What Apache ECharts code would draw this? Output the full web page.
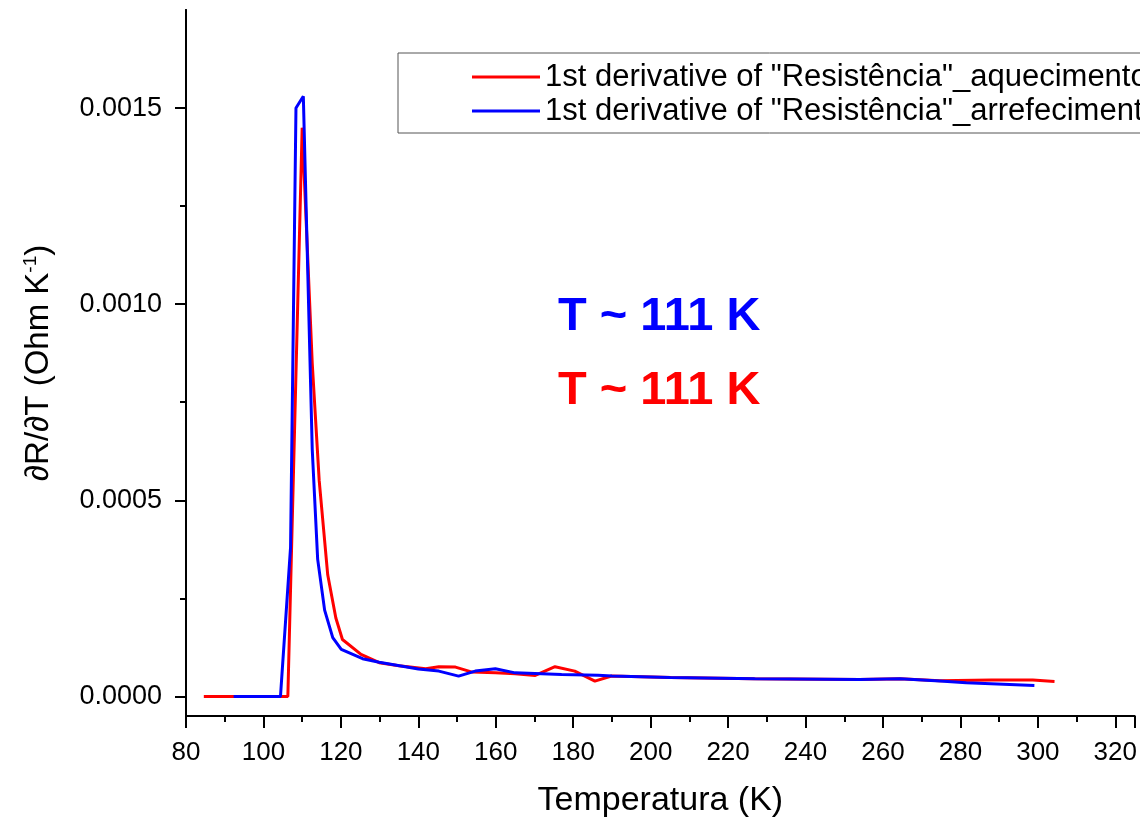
<!DOCTYPE html>
<html>
<head>
<meta charset="utf-8">
<script src="https://cdn.jsdelivr.net/npm/echarts@6/dist/echarts.min.js"></script>
<style>
  html, body { margin: 0; padding: 0; background: #fff; }
  #chart { width: 1140px; height: 826px; }
</style>
</head>
<body>
<div id="chart"></div>
<script>
// 数据: [温度 K, dR/dT]
const aquecimento = [
  [84.6, 0], [106.3, 0], [110.0, 0.00145], [112.6, 0.00085], [114.4, 0.00055],
  [116.6, 0.00031], [118.7, 0.00020], [120.4, 0.000145], [125.2, 0.000107],
  [129.9, 0.000086], [135.0, 0.000078], [141.9, 0.0000705], [145.3, 0.0000756],
  [149.6, 0.0000747], [153.9, 0.000062], [159.9, 0.000060], [165.0, 0.000058],
  [170.2, 0.0000535], [175.3, 0.0000757], [180.4, 0.0000645], [185.6, 0.000039],
  [189.9, 0.000052], [205.3, 0.000048], [226.7, 0.000045], [254.0, 0.000043],
  [264.4, 0.000045], [274.7, 0.000040], [288.0, 0.000042], [298.7, 0.0000415],
  [304.3, 0.000038]
]
const arrefecimento = [
  [92.3, 0], [104.4, 0], [107.0, 0.00038], [108.4, 0.00150], [110.3, 0.00153],
  [112.6, 0.00063], [114.0, 0.00035], [115.8, 0.00022], [117.9, 0.00015],
  [120.1, 0.00012], [125.6, 0.000096], [129.9, 0.000087], [140.0, 0.000070],
  [145.3, 0.0000645], [150.4, 0.0000517], [154.7, 0.0000645], [159.9, 0.0000705],
  [165.0, 0.000060], [177.0, 0.000056], [186.4, 0.000054], [190.0, 0.000052],
  [205.0, 0.000048], [227.0, 0.000045], [254.0, 0.000043], [264.4, 0.000045],
  [274.7, 0.000039], [281.5, 0.000035], [299.1, 0.000028]
]
const seriesNames = ['1st derivative of "Resistência"_aquecimento', '1st derivative of "Resistência"_arrefecimento']
const yMajor = [0, 0.0005, 0.0010, 0.0015]
const yMinor = [0.00025, 0.00075, 0.00125]
const annotText = 'T ~ 111 K'

const font = "'Liberation Sans', Arial, sans-serif"
let myChart = echarts.init(document.getElementById('chart'))

const yBase = {
  type: 'value',
  min: -0.00005,
  max: 0.00175,
  position: 'left',
  splitLine: { show: false },
  axisLine: { show: true, onZero: false, lineStyle: { color: '#000', width: 2 } }
}

myChart.setOption({
  animation: false,
  backgroundColor: '#fff',
  textStyle: { fontFamily: font },
  // x 轴延伸到画布右边缘
  grid: { left: 186, right: 0, top: 10, bottom: 110, containLabel: false },
  legend: {
    data: seriesNames,
    orient: 'vertical',
    left: 398,
    top: 53,
    padding: [7, 400, 5, 74],
    itemGap: 0,
    itemWidth: 68,
    itemHeight: 3,
    icon: 'rect',
    borderColor: '#555',
    borderWidth: 1,
    textStyle: { fontFamily: font, fontSize: 31, color: '#000', lineHeight: 34 }
  },
  xAxis: {
    type: 'value',
    min: 80,
    max: 325,
    interval: 20,
    name: 'Temperatura (K)',
    nameLocation: 'middle',
    nameGap: 68,
    nameTextStyle: { fontFamily: font, fontSize: 34, color: '#000' },
    axisLine: { onZero: false, lineStyle: { color: '#000', width: 2 } },
    axisTick: { length: 12, lineStyle: { color: '#000', width: 2 } },
    minorTick: { show: true, splitNumber: 2, length: 6, lineStyle: { color: '#000', width: 2 } },
    axisLabel: { fontFamily: font, fontSize: 26, color: '#000', margin: 24, showMinLabel: true, showMaxLabel: false },
    splitLine: { show: false }
  },
  yAxis: [
    Object.assign({}, yBase, {
      name: '∂R/∂T (Ohm K{sup|-1})',
      nameLocation: 'middle',
      nameGap: 130,
      nameTextStyle: {
        fontFamily: font, fontSize: 33, color: '#000',
        rich: { sup: { fontSize: 19, verticalAlign: 'top', padding: [0, 0, 16, 0] } }
      },
      axisTick: { length: 11, customValues: yMajor, lineStyle: { color: '#000', width: 2 } },
      axisLabel: {
        fontFamily: font, fontSize: 27, color: '#000', margin: 24,
        customValues: yMajor,
        formatter: v => v.toFixed(4)
      }
    }),
    Object.assign({}, yBase, {
      axisTick: { length: 6, customValues: yMinor, lineStyle: { color: '#000', width: 2 } },
      axisLabel: { show: false }
    })
  ],
  graphic: [
    {
      type: 'text', left: 558, top: 294,
      style: { text: annotText, fill: '#0000ff', font: 'bold 47px ' + font }
    },
    {
      type: 'text', left: 558, top: 368,
      style: { text: annotText, fill: '#ff0000', font: 'bold 47px ' + font }
    }
  ],
  series: [
    {
      name: seriesNames[0],
      type: 'line',
      data: aquecimento,
      showSymbol: false,
      color: '#ff0000',
      lineStyle: { width: 3, color: '#ff0000' }
    },
    {
      name: seriesNames[1],
      type: 'line',
      data: arrefecimento,
      showSymbol: false,
      color: '#0000ff',
      lineStyle: { width: 3, color: '#0000ff' }
    }
  ]
})
</script>
</body>
</html>
